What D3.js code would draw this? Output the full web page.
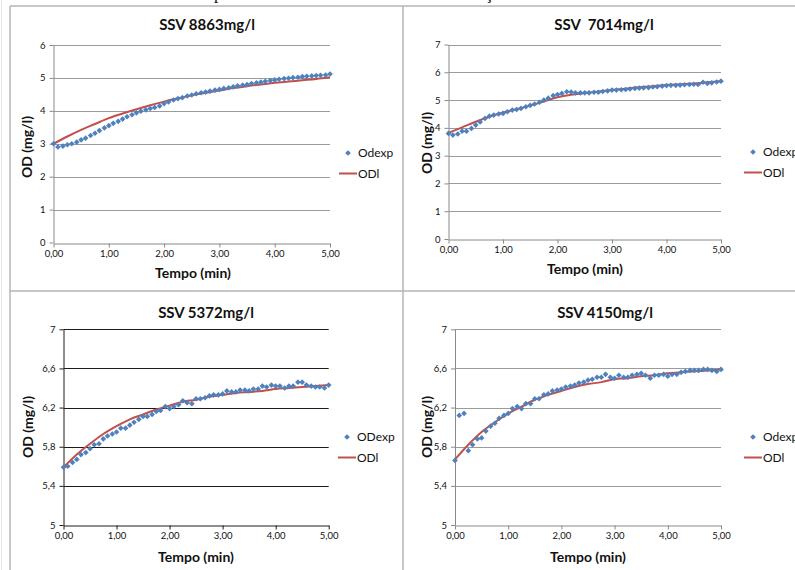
<!DOCTYPE html>
<html>
<head>
<meta charset="utf-8">
<script src="https://cdn.jsdelivr.net/npm/d3@7"></script>
<style>
  body { margin: 0; background: #fff; }
  svg text { font-family: Lato, "Open Sans", sans-serif; fill: #111; }
</style>
</head>
<body>
<svg id="fig" width="795" height="570"></svg>
<script>
// sample instants (min), one reading every 5 s
const tempoExp = [0, 0.08, 0.17, 0.25, 0.33, 0.42, 0.5, 0.58, 0.67, 0.75, 0.83, 0.92,
  1, 1.08, 1.17, 1.25, 1.33, 1.42, 1.5, 1.58, 1.67, 1.75, 1.83, 1.92,
  2, 2.08, 2.17, 2.25, 2.33, 2.42, 2.5, 2.58, 2.67, 2.75, 2.83, 2.92,
  3, 3.08, 3.17, 3.25, 3.33, 3.42, 3.5, 3.58, 3.67, 3.75, 3.83, 3.92,
  4, 4.08, 4.17, 4.25, 4.33, 4.42, 4.5, 4.58, 4.67, 4.75, 4.83, 4.92, 5];
const tempoModel = [0, 0.25, 0.5, 0.75, 1, 1.25, 1.5, 1.75, 2, 2.25, 2.5, 2.75,
  3, 3.25, 3.5, 3.75, 4, 4.25, 4.5, 4.75, 5];

const titles = ["SSV 8863mg/l", "SSV  7014mg/l", "SSV 5372mg/l", "SSV 4150mg/l"];
const legendExp = ["Odexp", "Odexp", "ODexp", "Odexp"];
const legendModel = "ODl";
const xTitle = "Tempo (min)";
const yTitle = ["OD (mg/l)", "OD (mg/l)", "OD (mg/l)", "OD (mg/l)"];

const xTicks = [0, 1, 2, 3, 4, 5];
const yTicks8863 = [0, 1, 2, 3, 4, 5, 6];
const yTicks7014 = [0, 1, 2, 3, 4, 5, 6, 7];
const yTicksLow = [5, 5.4, 5.8, 6.2, 6.6, 7];

const odExp8863 = [3.0, 2.9, 2.93, 2.97, 3.0, 3.05, 3.12, 3.17, 3.25, 3.32, 3.4, 3.48,
  3.55, 3.62, 3.68, 3.75, 3.82, 3.88, 3.94, 3.99, 4.03, 4.07, 4.1, 4.15,
  4.22, 4.27, 4.33, 4.37, 4.4, 4.45, 4.48, 4.52, 4.55, 4.57, 4.6, 4.63,
  4.65, 4.68, 4.7, 4.73, 4.76, 4.78, 4.8, 4.83, 4.85, 4.87, 4.9, 4.92,
  4.94, 4.96, 4.98, 4.99, 5.01, 5.02, 5.04, 5.05, 5.06, 5.07, 5.08, 5.09, 5.12];
const odl8863 = [3.0, 3.22, 3.42, 3.6, 3.78, 3.92, 4.05, 4.17, 4.28, 4.38, 4.47, 4.55,
  4.62, 4.69, 4.75, 4.8, 4.85, 4.89, 4.93, 4.97, 5.02];

const odExp7014 = [3.8, 3.74, 3.78, 3.88, 3.88, 3.98, 4.1, 4.21, 4.34, 4.42, 4.46, 4.5,
  4.52, 4.58, 4.64, 4.66, 4.7, 4.76, 4.81, 4.86, 4.92, 5.0, 5.07, 5.16,
  5.2, 5.24, 5.3, 5.29, 5.26, 5.26, 5.26, 5.26, 5.28, 5.28, 5.31, 5.33,
  5.36, 5.36, 5.37, 5.38, 5.4, 5.42, 5.43, 5.44, 5.45, 5.47, 5.48, 5.5,
  5.52, 5.53, 5.53, 5.54, 5.55, 5.56, 5.57, 5.56, 5.64, 5.6, 5.62, 5.65, 5.68];
const odl7014 = [3.82, 4.02, 4.22, 4.4, 4.55, 4.67, 4.8, 4.95, 5.1, 5.19, 5.25, 5.31,
  5.36, 5.41, 5.46, 5.5, 5.54, 5.57, 5.6, 5.64, 5.68];

const odExp5372 = [5.59, 5.6, 5.64, 5.67, 5.72, 5.74, 5.78, 5.82, 5.83, 5.88, 5.91, 5.93,
  5.95, 5.99, 5.99, 6.02, 6.05, 6.08, 6.11, 6.11, 6.13, 6.16, 6.17, 6.21,
  6.19, 6.21, 6.23, 6.27, 6.25, 6.24, 6.29, 6.29, 6.3, 6.32, 6.33, 6.33,
  6.34, 6.37, 6.36, 6.36, 6.38, 6.38, 6.37, 6.39, 6.39, 6.42, 6.41, 6.43,
  6.42, 6.42, 6.4, 6.42, 6.42, 6.46, 6.46, 6.43, 6.42, 6.41, 6.41, 6.4, 6.43];
const odl5372 = [5.59, 5.72, 5.83, 5.93, 6.01, 6.08, 6.13, 6.18, 6.22, 6.26, 6.28, 6.31,
  6.33, 6.35, 6.36, 6.37, 6.39, 6.4, 6.41, 6.42, 6.43];

const odExp4150 = [5.66, 6.12, 6.14, 5.76, 5.82, 5.88, 5.89, 5.96, 6.01, 6.04, 6.09, 6.12,
  6.14, 6.19, 6.21, 6.19, 6.24, 6.24, 6.29, 6.29, 6.33, 6.34, 6.37, 6.38,
  6.39, 6.41, 6.42, 6.43, 6.45, 6.46, 6.48, 6.49, 6.51, 6.51, 6.54, 6.51,
  6.5, 6.53, 6.51, 6.51, 6.53, 6.54, 6.55, 6.53, 6.5, 6.53, 6.53, 6.54,
  6.52, 6.54, 6.54, 6.56, 6.57, 6.58, 6.58, 6.58, 6.59, 6.59, 6.58, 6.57, 6.59];
const odl4150 = [5.67, 5.82, 5.95, 6.05, 6.14, 6.21, 6.28, 6.33, 6.37, 6.41, 6.44, 6.46,
  6.49, 6.5, 6.52, 6.53, 6.55, 6.56, 6.57, 6.58, 6.59];

const ptBr = d3.formatLocale({ decimal: ",", thousands: ".", grouping: [3], currency: ["", ""] });
const fmtX = ptBr.format(".2f");
const fmtY = (v) => Number.isInteger(v) ? String(v) : ptBr.format(".1f")(v);

const blue = "#4f81bd";
const red = "#c0504d";

const svg = d3.select("#fig");

// sheet frame (cell borders between the four charts)
const frame = svg.append("g").attr("fill", "none").attr("stroke", "#b4b4b4").attr("stroke-width", 1.5);
frame.append("line").attr("x1", 10).attr("x2", 795).attr("y1", 6).attr("y2", 6);
frame.append("line").attr("x1", 10).attr("x2", 795).attr("y1", 291).attr("y2", 291);
frame.append("line").attr("x1", 10).attr("x2", 10).attr("y1", 6).attr("y2", 570);
frame.append("line").attr("x1", 403).attr("x2", 403).attr("y1", 6).attr("y2", 570);
svg.append("line").attr("x1", 1.5).attr("x2", 1.5).attr("y1", 0).attr("y2", 570)
  .attr("stroke", "#e4e4e4");

// caption line above, cut off by the crop
svg.append("text").attr("x", 214).attr("y", -1).style("font-family", "'Liberation Serif', serif")
  .style("font-size", "17px").text("p");
svg.append("text").attr("x", 485).attr("y", -1).style("font-family", "'Liberation Serif', serif")
  .style("font-size", "17px").text("ç");

const panels = [
  { title: titles[0], leg: legendExp[0], yLab: yTitle[0], exp: odExp8863, model: odl8863,
    yTicks: yTicks8863, x0: 53.5, x1: 330, yTop: 45, yBot: 242.5,
    grid: "#9b9b9b", axis: "#8a8a8a", titleX: 207, titleY: 30, legX: 348, legY: 153,
    xTitleX: 193, xTitleY: 278, yTitleX: 27, yTitleY: 147 },
  { title: titles[1], leg: legendExp[1], yLab: yTitle[1], exp: odExp7014, model: odl7014,
    yTicks: yTicks7014, x0: 448.5, x1: 721, yTop: 44.5, yBot: 239,
    grid: "#9b9b9b", axis: "#8a8a8a", titleX: 604, titleY: 30, legX: 753, legY: 152,
    xTitleX: 585, xTitleY: 274, yTitleX: 427, yTitleY: 143 },
  { title: titles[2], leg: legendExp[2], yLab: yTitle[2], exp: odExp5372, model: odl5372,
    yTicks: yTicksLow, x0: 63.5, x1: 328.7, yTop: 329.3, yBot: 525,
    grid: "#1c1c1c", axis: "#1c1c1c", titleX: 206, titleY: 318, legX: 347, legY: 437,
    xTitleX: 196, xTitleY: 562, yTitleX: 28, yTitleY: 427 },
  { title: titles[3], leg: legendExp[3], yLab: yTitle[3], exp: odExp4150, model: odl4150,
    yTicks: yTicksLow, x0: 455, x1: 721, yTop: 329.3, yBot: 525,
    grid: "#9b9b9b", axis: "#8a8a8a", titleX: 605, titleY: 318, legX: 753, legY: 437,
    xTitleX: 588, xTitleY: 562, yTitleX: 427, yTitleY: 427 }
];

const diamond = d3.symbol().type(d3.symbolSquare).size(16);

panels.forEach(drawPanel);

function drawPanel(p) {
  const g = svg.append("g");
  const x = d3.scaleLinear().domain([0, 5]).range([p.x0, p.x1]);
  const y = d3.scaleLinear().domain(d3.extent(p.yTicks)).range([p.yBot, p.yTop]);

  g.selectAll("line.grid")
    .data(p.yTicks.slice(1))
    .join("line")
    .attr("class", "grid")
    .attr("x1", p.x0).attr("x2", p.x1)
    .attr("y1", (d) => Math.round(y(d)) + 0.5).attr("y2", (d) => Math.round(y(d)) + 0.5)
    .attr("stroke", p.grid);

  const yAxis = g.append("g")
    .attr("transform", `translate(${p.x0},0)`)
    .call(d3.axisLeft(y).tickValues(p.yTicks).tickFormat(fmtY).tickSize(4).tickSizeOuter(0).tickPadding(4));
  const xAxis = g.append("g")
    .attr("transform", `translate(0,${Math.round(p.yBot) + 0.5})`)
    .call(d3.axisBottom(x).tickValues(xTicks).tickFormat(fmtX).tickSize(4).tickSizeOuter(0).tickPadding(3));
  [yAxis, xAxis].forEach((a) => {
    a.select(".domain").attr("stroke", p.axis);
    a.selectAll(".tick line").attr("stroke", p.axis);
    a.selectAll(".tick text").style("font-size", "9.5px").style("font-family", "Lato, sans-serif").attr("fill", "#222");
  });

  // model curve
  g.append("path")
    .datum(tempoModel.map((t, i) => [t, p.model[i]]))
    .attr("fill", "none")
    .attr("stroke", red)
    .attr("stroke-width", 2)
    .attr("d", d3.line().x((d) => x(d[0])).y((d) => y(d[1])).curve(d3.curveMonotoneX));

  // measured points
  g.selectAll("path.pt")
    .data(tempoExp.map((t, i) => [t, p.exp[i]]))
    .join("path")
    .attr("class", "pt")
    .attr("d", diamond)
    .attr("transform", (d) => `translate(${x(d[0])},${y(d[1])}) rotate(45)`)
    .attr("fill", blue);

  g.append("text")
    .attr("x", p.titleX).attr("y", p.titleY)
    .attr("text-anchor", "middle")
    .style("font-size", "15px").style("font-weight", "bold").style("white-space", "pre")
    .text(p.title);

  g.append("text")
    .attr("x", p.xTitleX).attr("y", p.xTitleY)
    .attr("text-anchor", "middle")
    .style("font-size", "14px").style("font-weight", "bold")
    .text(xTitle);

  g.append("text")
    .attr("transform", `translate(${p.yTitleX},${p.yTitleY}) rotate(-90)`)
    .attr("text-anchor", "middle").attr("dy", "0.35em")
    .style("font-size", "14px").style("font-weight", "bold")
    .text(p.yLab);

  // legend
  g.append("path")
    .attr("d", diamond)
    .attr("transform", `translate(${p.legX},${p.legY}) rotate(45)`)
    .attr("fill", blue);
  g.append("text")
    .attr("x", p.legX + 10).attr("y", p.legY).attr("dy", "0.35em")
    .style("font-size", "12px")
    .text(p.leg);
  g.append("line")
    .attr("x1", p.legX - 9).attr("x2", p.legX + 9)
    .attr("y1", p.legY + 20.5).attr("y2", p.legY + 20.5)
    .attr("stroke", red).attr("stroke-width", 2);
  g.append("text")
    .attr("x", p.legX + 10).attr("y", p.legY + 21).attr("dy", "0.35em")
    .style("font-size", "12px")
    .text(legendModel);
}
</script>
</body>
</html>
